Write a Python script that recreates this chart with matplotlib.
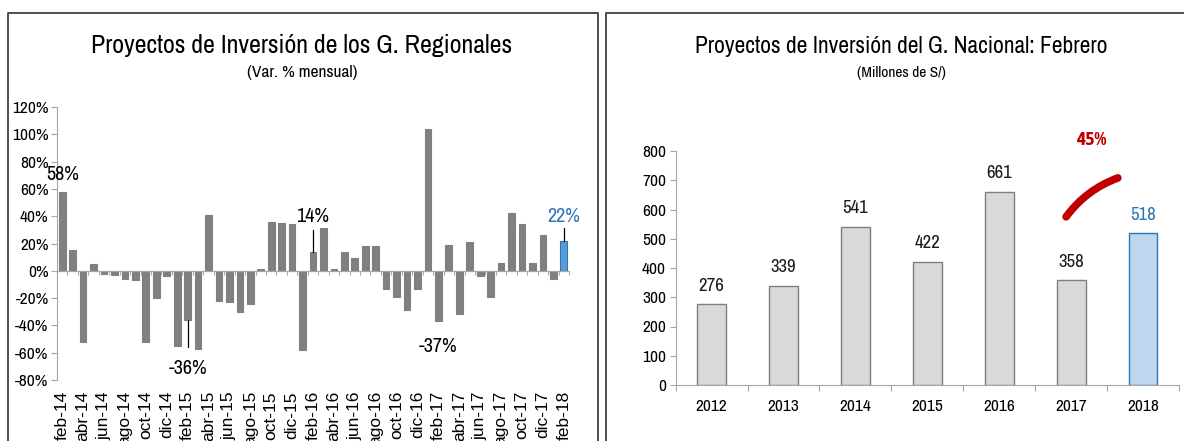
import matplotlib
matplotlib.use("Agg")
import matplotlib.pyplot as plt
from matplotlib.lines import Line2D
import numpy as np

plt.rcParams['font.family'] = ['Archivo Narrow', 'DejaVu Sans']

# variacion mensual de proyectos de inversion, gobiernos regionales (feb-14 a feb-18)
meses = ['feb-14', 'mar-14', 'abr-14', 'may-14', 'jun-14', 'jul-14', 'ago-14', 'sep-14',
         'oct-14', 'nov-14', 'dic-14', 'ene-15', 'feb-15', 'mar-15', 'abr-15', 'may-15',
         'jun-15', 'jul-15', 'ago-15', 'sep-15', 'oct-15', 'nov-15', 'dic-15', 'ene-16',
         'feb-16', 'mar-16', 'abr-16', 'may-16', 'jun-16', 'jul-16', 'ago-16', 'sep-16',
         'oct-16', 'nov-16', 'dic-16', 'ene-17', 'feb-17', 'mar-17', 'abr-17', 'may-17',
         'jun-17', 'jul-17', 'ago-17', 'sep-17', 'oct-17', 'nov-17', 'dic-17', 'ene-18',
         'feb-18']
var_regional = [58, 15, -52, 5, -2, -3, -6, -7,
                -52, -20, -4, -55, -36, -57, 41, -22,
                -23, -30, -24, 1.5, 36, 35, 34, -58,
                14, 31, 1.5, 14, 9.5, 18, 18, -13,
                -19, -29, -13, 104, -37, 19, -32, 21,
                -4, -19, 6, 42, 34, 6, 26, -6,
                22]

# proyectos de inversion del gobierno nacional, febrero de cada anio (millones de S/)
anios = ['2012', '2013', '2014', '2015', '2016', '2017', '2018']
monto_nacional = [276, 339, 541, 422, 661, 358, 518]
var_2018 = 45

gris_eje = '#A6A6A6'

fig = plt.figure(figsize=(11.84, 4.41), dpi=100)

# marcos de los dos paneles
W, H = 1184, 441
def fx(px): return px / W
def fy(py): return 1 - py / H
marco = dict(color='#404040', lw=1.3, transform=fig.transFigure)
fig.add_artist(Line2D([fx(8), fx(8), fx(598), fx(598)], [0, fy(13), fy(13), 0], **marco))
fig.add_artist(Line2D([fx(606), fx(606), 1], [0, fy(13), fy(13)], **marco))

# ---------------- panel izquierdo ----------------
ax1 = fig.add_axes([fx(57), fy(380), fx(569) - fx(57), fy(107) - fy(380)])
x = np.arange(len(meses))
colores = ['#808080'] * len(meses)
colores[-1] = '#5B9BD5'
bordes = ['#808080'] * len(meses)
bordes[-1] = '#2E75B6'
ax1.bar(x, var_regional, width=0.64, color=colores, edgecolor=bordes, linewidth=0.8, zorder=2)
ax1.set_xlim(-0.5, len(meses) - 0.5)
ax1.set_ylim(-80, 120)
ax1.set_yticks(np.arange(-80, 121, 20))
ax1.set_yticklabels([f'{v}%' for v in range(-80, 121, 20)])
ax1.tick_params(axis='y', labelsize=12.5, length=4, color=gris_eje, pad=2)
for s in ['top', 'right']:
    ax1.spines[s].set_visible(False)
ax1.spines['left'].set_color(gris_eje)
ax1.spines['bottom'].set_position(('data', 0))
ax1.spines['bottom'].set_color(gris_eje)
ax1.set_xticks(np.arange(-0.5, len(meses), 1))
ax1.tick_params(axis='x', length=3, color=gris_eje, labelbottom=False)
sec = ax1.secondary_xaxis('bottom')
sec.set_xticks(x[::2], meses[::2], rotation=90, family=['Liberation Sans', 'DejaVu Sans'])
sec.tick_params(length=0, labelsize=12.5, pad=8)
sec.spines['bottom'].set_visible(False)

# etiquetas destacadas
def etiqueta(i, dy_txt, dy_linea=None, color='black'):
    v = var_regional[i]
    ax1.annotate(f'{v:.0f}%', (i, v), xytext=(i, v + dy_txt), ha='center', va='center',
                 fontsize=14.5, color=color, zorder=4)
    if dy_linea is not None:
        ax1.plot([i, i], [v, v + dy_linea], color='black', lw=0.9, zorder=3)

etiqueta(0, 12.5)
etiqueta(12, -35.5, -20)
etiqueta(24, 26, 16)
etiqueta(36, -18.5)
etiqueta(48, 18, 9, color='#2E75B6')

fig.text(fx(302), fy(53), 'Proyectos de Inversión de los G. Regionales', ha='center', va='baseline',
         fontsize=18.7)
fig.text(fx(302), fy(77), '(Var. % mensual)', ha='center', va='baseline', fontsize=12.5)

# ---------------- panel derecho ----------------
ax2 = fig.add_axes([fx(675.6), fy(385), fx(1179) - fx(675.6), fy(151) - fy(385)])
xr = np.arange(len(anios))
relleno = ['#D9D9D9'] * len(anios)
relleno[-1] = '#BDD7EE'
borde_r = ['#7F7F7F'] * len(anios)
borde_r[-1] = '#2E75B6'
ax2.bar(xr, monto_nacional, width=0.40, color=relleno, edgecolor=borde_r, linewidth=1.0, zorder=2)
ax2.set_xlim(-0.5, len(anios) - 0.5)
ax2.set_ylim(0, 800)
ax2.set_yticks(np.arange(0, 801, 100))
ax2.tick_params(axis='y', labelsize=12.5, length=4, color=gris_eje, pad=3)
ax2.set_xticks(np.arange(-0.5, len(anios), 1), minor=False)
ax2.set_xticklabels([])
ax2.tick_params(axis='x', length=4, color=gris_eje)
ax2.set_xticks(xr, anios, minor=True)
ax2.tick_params(axis='x', which='minor', length=0, labelsize=12.5, pad=10)
for s in ['top', 'right']:
    ax2.spines[s].set_visible(False)
for s in ['left', 'bottom']:
    ax2.spines[s].set_color(gris_eje)

for i, v in enumerate(monto_nacional):
    c = '#2E75B6' if i == len(anios) - 1 else '#1A1A1A'
    ax2.annotate(f'{v}', (i, v), xytext=(0, 13.5), textcoords='offset points', ha='center',
                 va='center', fontsize=13.5, color=c)

# trazo de crecimiento 2017-2018
ax2.annotate('', xy=(5.65, 708), xytext=(4.93, 575),
             arrowprops=dict(arrowstyle='-', connectionstyle='arc3,rad=-0.15', color='#C00000',
                             lw=5.5, capstyle='round', shrinkA=0, shrinkB=0), annotation_clip=False)
ax2.text(5.28, 838, f'{var_2018}%', ha='center', va='center', fontsize=14, fontweight='bold',
         family=['Asap Condensed', 'DejaVu Sans'], color='#C00000', clip_on=False)

fig.text(fx(901), fy(53), 'Proyectos de Inversión del G. Nacional: Febrero', ha='center', va='baseline',
         fontsize=16.9)
fig.text(fx(901), fy(77), '(Millones de S/)', ha='center', va='baseline', fontsize=11.2)

fig.savefig('out.png', dpi=100)
